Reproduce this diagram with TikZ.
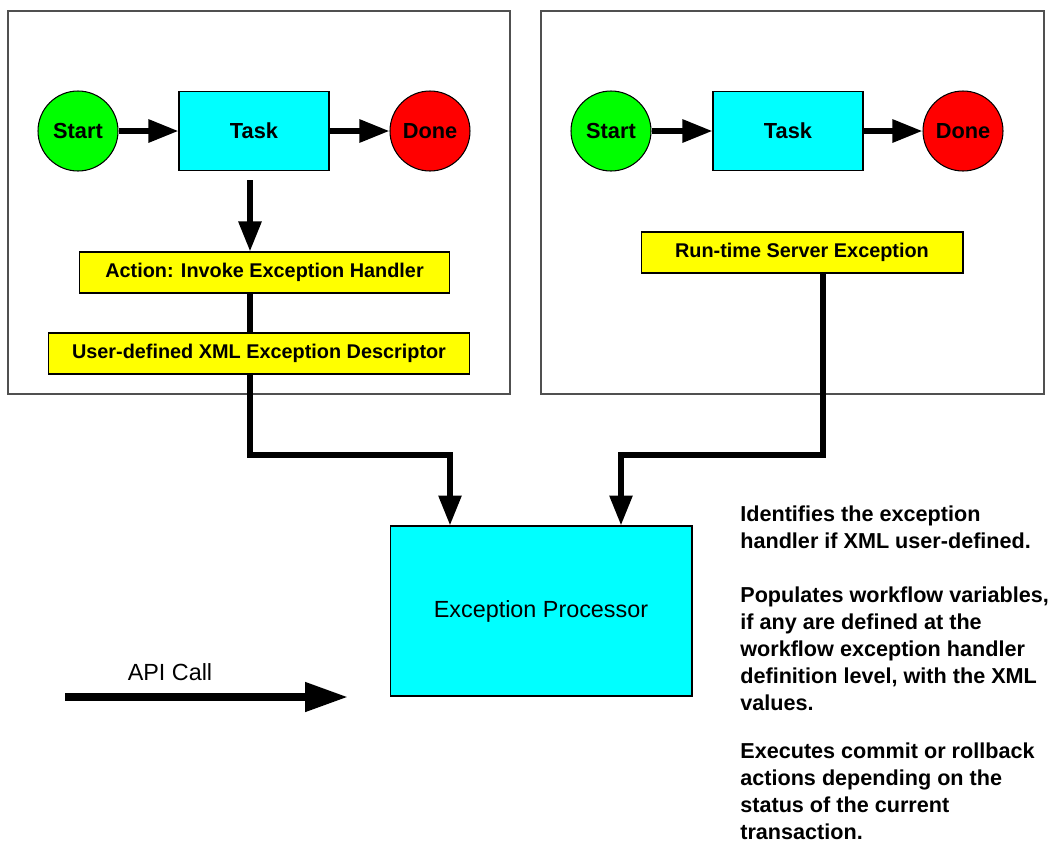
\documentclass[tikz,border=0pt]{standalone}
\usepackage{fontspec}
\setmainfont{Liberation Sans}
\usepackage{tikz}
\usetikzlibrary{arrows.meta,positioning,calc}
\usepackage{xcolor}
\definecolor{wfgreen} {RGB}{  0, 255,   0}
\definecolor{wfred}   {RGB}{255,   0,   0}
\definecolor{wfcyan}  {RGB}{  0, 255, 255}
\definecolor{wfyellow}{RGB}{255, 255,   0}
\definecolor{wfframe} {RGB}{ 80,  80,  80}

\begin{document}
\begin{tikzpicture}[
  x=0.02cm,y=-0.02cm,
  every node/.style={font=\fontsize{11.3}{13}\selectfont\bfseries,inner sep=0pt},
  frame/.style={draw=wfframe,line width=0.9pt},
  startnode/.style={circle,minimum size=1.6cm,fill=wfgreen,draw=black,line width=0.6pt,
                    font=\fontsize{12.4}{14}\selectfont\bfseries},
  donenode/.style={startnode,fill=wfred},
  taskbox/.style={minimum width=3.0cm,minimum height=1.58cm,fill=wfcyan,draw=black,line width=0.6pt,
                  font=\fontsize{12.4}{14}\selectfont\bfseries},
  tag/.style={minimum height=0.82cm,fill=wfyellow,draw=black,line width=0.6pt},
  flow/.style={line width=3.3pt,-{Triangle[length=0.6cm,width=0.44cm]}},
  link/.style={line width=3.3pt},
]
\useasboundingbox (0,0) rectangle (1059,846);

%% Left panel: user-defined exception
\draw[frame] (8,11) rectangle (510,394);
\node[startnode] (startA) at (78,131)  {Start};
\node[taskbox]   (taskA)  at (254,131) {Task};
\node[donenode]  (doneA)  at (430,131) {Done};
\node[tag,minimum width=7.42cm] (action) at (264.5,272.5) {Action: Invoke Exception Handler};
\node[tag,minimum width=8.44cm] (descr)  at (259,353.5)   {User-defined XML Exception Descriptor};
\coordinate (dropA) at (250,455);

\draw[flow] (startA) -- (taskA);
\draw[flow] (taskA) -- (doneA);
\draw[flow,shorten <=0.18cm] (taskA.south -| dropA) -- (action.north -| dropA);
\draw[link] (action.south -| dropA) -- (descr.north -| dropA);

%% Right panel: run-time server exception
\draw[frame] (541,11) rectangle (1044,394);
\node[startnode] (startB) at (611,131) {Start};
\node[taskbox]   (taskB)  at (788,131) {Task};
\node[donenode]  (doneB)  at (963,131) {Done};
\node[tag,minimum width=6.44cm] (runtime) at (802,252.5) {Run-time Server Exception};
\coordinate (dropB) at (823,455);

\draw[flow] (startB) -- (taskB);
\draw[flow] (taskB) -- (doneB);

%% Exception processor
\node[taskbox,minimum width=6.04cm,minimum height=3.4cm,
      font=\fontsize{13.3}{15}\selectfont] (proc) at (541,611) {Exception Processor};
\coordinate (inA) at (450,455);
\coordinate (inB) at (621,455);

\draw[flow] (descr.south -| dropA) -- (dropA) -- (inA) -- (proc.north -| inA);
\draw[flow] (runtime.south -| dropB) -- (dropB) -- (inB) -- (proc.north -| inB);

%% API call
\coordinate (apiA) at (65,697);
\coordinate (apiB) at (348,697);
\draw[line width=4.4pt,-{Triangle[length=0.86cm,width=0.56cm]}] (apiA) -- (apiB);
\node[font=\fontsize{13.3}{15}\selectfont] (apilbl) at (170,672) {API Call};

%% Notes
\node[anchor=north west,align=left,font=\fontsize{12.3}{15.4}\selectfont\bfseries]
  (notes) at (740,505)
  {Identifies the exception\\
   handler if XML user-defined.\\[15.4pt]
   Populates workflow variables,\\
   if any are defined at the\\
   workflow exception handler\\
   definition level, with the XML\\
   values.\\[12pt]
   Executes commit or rollback\\
   actions depending on the\\
   status of the current\\
   transaction.};

\end{tikzpicture}
\end{document}
